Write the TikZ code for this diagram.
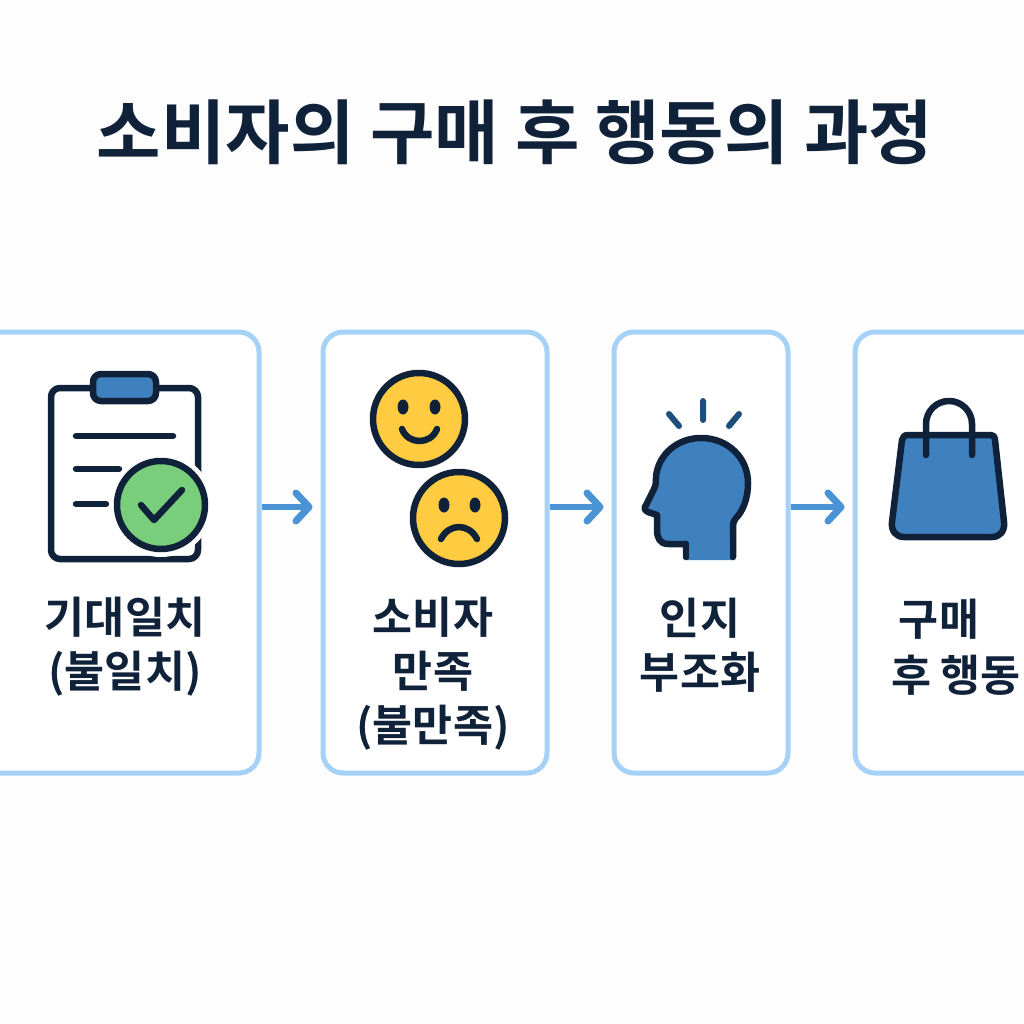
\documentclass[tikz,border=0pt]{standalone}
\usepackage{fontspec}
\setmainfont{Noto Sans CJK KR}[BoldFont={Noto Sans CJK KR Bold}]
\usetikzlibrary{arrows.meta}
\definecolor{ink}{HTML}{10223A}
\definecolor{boxb}{HTML}{A6D2F7}
\definecolor{arr}{HTML}{4A94D6}
\definecolor{blu}{HTML}{3F81BF}
\definecolor{spark}{HTML}{1C4F7C}
\definecolor{yel}{HTML}{FFCB40}
\definecolor{grn}{HTML}{79CE7B}
\definecolor{bg}{HTML}{FDFDFD}
\tikzset{
 x=1pt,y=-1pt,
 card/.style={draw=boxb,line width=5pt,fill=white,rounded corners=20pt,inner sep=0pt,rectangle},
 conn/.style={draw=arr,line width=6pt,shorten >=8pt,-{Straight Barb[length=13pt,width=28pt,line width=7pt,round]}},
 icon/.style={draw=ink,line width=6.5pt,line join=round,line cap=round},
 lab/.style={font=\fontsize{43.5}{54}\selectfont\bfseries,text=ink,align=center,inner sep=0pt},
 ttl/.style={font=\fontsize{70}{80}\selectfont\bfseries,text=ink,inner sep=0pt}
}
\begin{document}
\begin{tikzpicture}
\useasboundingbox[fill=bg] (0,0) rectangle (1024,1024);
\clip (0,0) rectangle (1024,1024);
\node[ttl] (title) at (515,132) {소비자의 구매 후 행동의 과정};
% cards
\node[card,minimum width=289pt,minimum height=441pt] (c1) at (114.5,552.5) {};
\node[card,minimum width=224pt,minimum height=441pt] (c2) at (435,552.5) {};
\node[card,minimum width=174pt,minimum height=441pt] (c3) at (701,552.5) {};
\node[card,minimum width=205pt,minimum height=441pt] (c4) at (957.5,552.5) {};
\coordinate (a1) at (c1.east |- 0,507); \coordinate (b2) at (c2.west |- 0,507);
\coordinate (a2) at (c2.east |- 0,507); \coordinate (b3) at (c3.west |- 0,507);
\coordinate (a3) at (c3.east |- 0,507); \coordinate (b4) at (c4.west |- 0,507);
\draw[conn] (a1) -- (b2);
\draw[conn] (a2) -- (b3);
\draw[conn] (a3) -- (b4);
% clipboard
\draw[icon,fill=white,rounded corners=9pt] (51,388) rectangle (198,559);
\draw[icon,fill=blu,rounded corners=8pt] (93,374) rectangle (156,401);
\draw[icon] (76,436) -- (173,436) (76,469) -- (119,469) (76,504) -- (106,504);
\fill[white] (161,505) circle (52);
\draw[icon,fill=grn] (161,505) circle (44);
\draw[icon] (141,505) -- (154,520) -- (182,490);
% smile
\draw[icon,fill=yel] (419,419) circle (46);
\fill[ink] (403,407) ellipse (5.5 and 7.5) (435,407) ellipse (5.5 and 7.5);
\draw[icon] (402,429) .. controls (408,445) and (431,445) .. (437,429);
% sad
\draw[icon,fill=yel] (459,518) circle (46);
\fill[ink] (444,505) ellipse (5.5 and 7.5) (475,505) ellipse (5.5 and 7.5);
\draw[icon] (441,539) .. controls (449,523) and (469,523) .. (477,539);
% head
\fill[blu] (686,560) -- (686,546) -- (665,544) -- (657,513) -- (645,510) -- (656,477) -- (700,438) -- (748,483) -- (733,522) -- (733,560) -- cycle;
\draw[icon,fill=blu] (686,557) -- (686,544) -- (668,544)
 .. controls (660,544) and (657,538) .. (657,530) -- (657,515)
 -- (648,512) .. controls (644,510) and (644,508) .. (646,505)
 -- (654,489) .. controls (656,485) and (656,482) .. (656,477)
 .. controls (658,454) and (678,438) .. (701,438)
 .. controls (728,438) and (748,458) .. (748,483)
 .. controls (748,500) and (742,512) .. (736,518)
 .. controls (733,522) and (733,524) .. (733,530) -- (733,557);
\fill[blu] (689,540) rectangle (730,560);
\draw[icon,draw=spark,line width=6pt] (703,401) -- (703,420) (669,414) -- (679,426) (739,414) -- (729,426);
% bag
\draw[icon,fill=blu] (908,435) -- (991,435) .. controls (994,435) and (995,437) .. (995,440)
 -- (1004,522) .. controls (1005,531) and (1000,537) .. (992,537)
 -- (904,537) .. controls (896,537) and (891,531) .. (892,522)
 -- (902,440) .. controls (903,437) and (904,435) .. (908,435) -- cycle;
\draw[icon] (926,455) -- (926,424) arc[start angle=180,end angle=0,x radius=23,y radius=-23] -- (972,455);
% labels
\node[lab] (l1) at (125,646.5) {기대일치\\(불일치)};
\node[lab] (l2) at (433,674) {소비자\\만족\\(불만족)};
\node[lab] (l3) at (700,645) {인지\\부조화};
\node[lab] (l4a) at (939,619) {구매};
\node[lab] (l4b) at (956,675) {후 행동};
\end{tikzpicture}
\end{document}
